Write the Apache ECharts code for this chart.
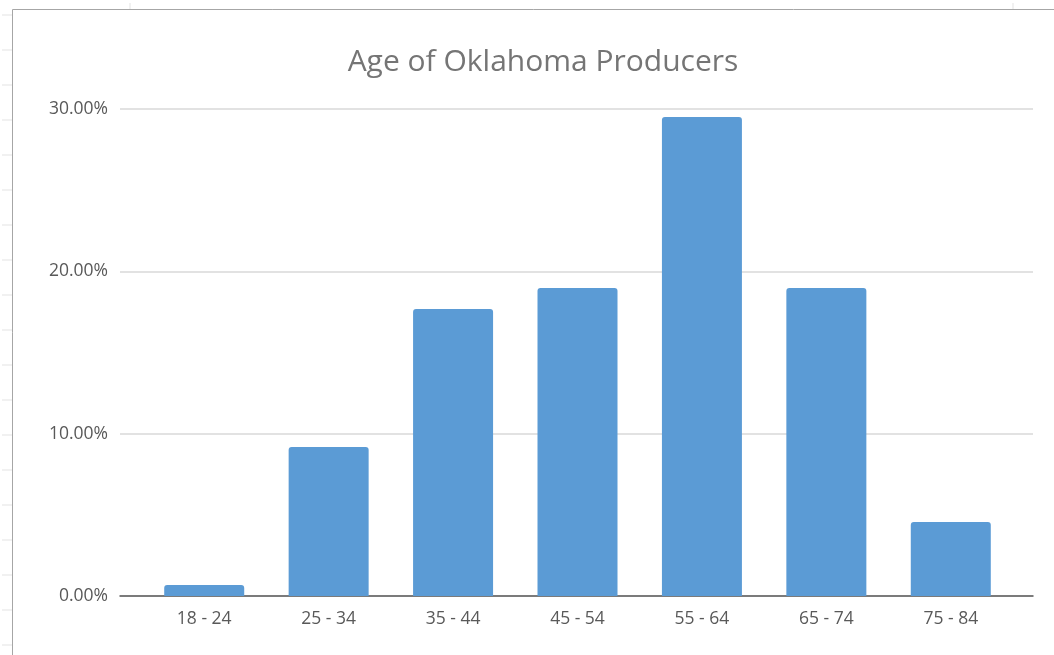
<!DOCTYPE html>
<html>
<head>
<meta charset="utf-8">
<title>Age of Oklahoma Producers</title>
<script src="https://cdn.jsdelivr.net/npm/echarts@6/dist/echarts.min.js"></script>
<style>
  html, body { margin: 0; padding: 0; background: #ffffff; }
  #chart { width: 1054px; height: 655px; }
</style>
</head>
<body>
<div id="chart"></div>
<script>
// Age brackets and share of producers in each
const ageGroups = ['18 - 24', '25 - 34', '35 - 44', '45 - 54', '55 - 64', '65 - 74', '75 - 84'];
const shareOfProducers = [0.0068, 0.0918, 0.1768, 0.1898, 0.2950, 0.1898, 0.0456];
const valueTicks = { min: 0, max: 0.30, step: 0.10 };

const textColor = '#595959';
const fontFamily = 'Open Sans, Noto Sans, sans-serif';

// faint worksheet row/column markers around the chart frame
const sheetMarks = [];
for (let y = 15; y < 655; y += 35) {
  sheetMarks.push({ type: 'line', shape: { x1: 2, y1: y, x2: 12, y2: y }, style: { stroke: '#e3e3e3', lineWidth: 1 }, silent: true });
}
[130, 1013].forEach(function (x) {
  sheetMarks.push({ type: 'line', shape: { x1: x, y1: 3, x2: x, y2: 9 }, style: { stroke: '#e3e3e3', lineWidth: 1 }, silent: true });
});

const chart = echarts.init(document.getElementById('chart'), null, { renderer: 'canvas' });

chart.setOption({
  backgroundColor: '#ffffff',
  animation: false,
  title: {
    text: 'Age of Oklahoma Producers',
    left: 538,
    textAlign: 'center',
    top: 42,
    textStyle: { color: '#757575', fontSize: 30, fontWeight: 'normal', fontFamily: fontFamily }
  },
  graphic: sheetMarks.concat([
    { type: 'polyline', shape: { points: [[12.5, 655], [12.5, 9.5], [1054, 9.5]] }, style: { stroke: '#a6a6a6', fill: null, lineWidth: 1 }, silent: true }
  ]),
  grid: [
    // full-width plot frame: value gridlines and the baseline
    { left: 120, right: 21, top: 109, bottom: 59 },
    // category bands for the bars
    { left: 142, right: 41, top: 109, bottom: 59 }
  ],
  xAxis: [
    {
      gridIndex: 0, type: 'category', data: ageGroups,
      axisLine: { show: true, lineStyle: { color: '#595959', width: 1.5 } },
      axisTick: { show: false }, axisLabel: { show: false }, splitLine: { show: false }
    },
    {
      gridIndex: 1, type: 'category', data: ageGroups,
      axisLine: { show: false }, axisTick: { show: false },
      axisLabel: { color: textColor, fontSize: 17.5, fontFamily: fontFamily, margin: 14 }
    }
  ],
  yAxis: [
    {
      gridIndex: 0, type: 'value', min: valueTicks.min, max: valueTicks.max, interval: valueTicks.step,
      axisLine: { show: false }, axisTick: { show: false },
      axisLabel: {
        color: textColor, fontSize: 17.5, fontFamily: fontFamily, margin: 12,
        formatter: function (v) { return (v * 100).toFixed(2) + '%'; }
      },
      splitLine: { lineStyle: { color: '#d9d9d9', width: 1.5 } }
    },
    {
      gridIndex: 1, type: 'value', min: valueTicks.min, max: valueTicks.max, interval: valueTicks.step,
      show: false, splitLine: { show: false }
    }
  ],
  series: [
    {
      type: 'bar',
      xAxisIndex: 1, yAxisIndex: 1,
      data: shareOfProducers,
      barWidth: 80,
      itemStyle: { color: '#5b9bd5', borderRadius: [3, 3, 0, 0] },
      z: 3
    }
  ]
});
</script>
</body>
</html>
